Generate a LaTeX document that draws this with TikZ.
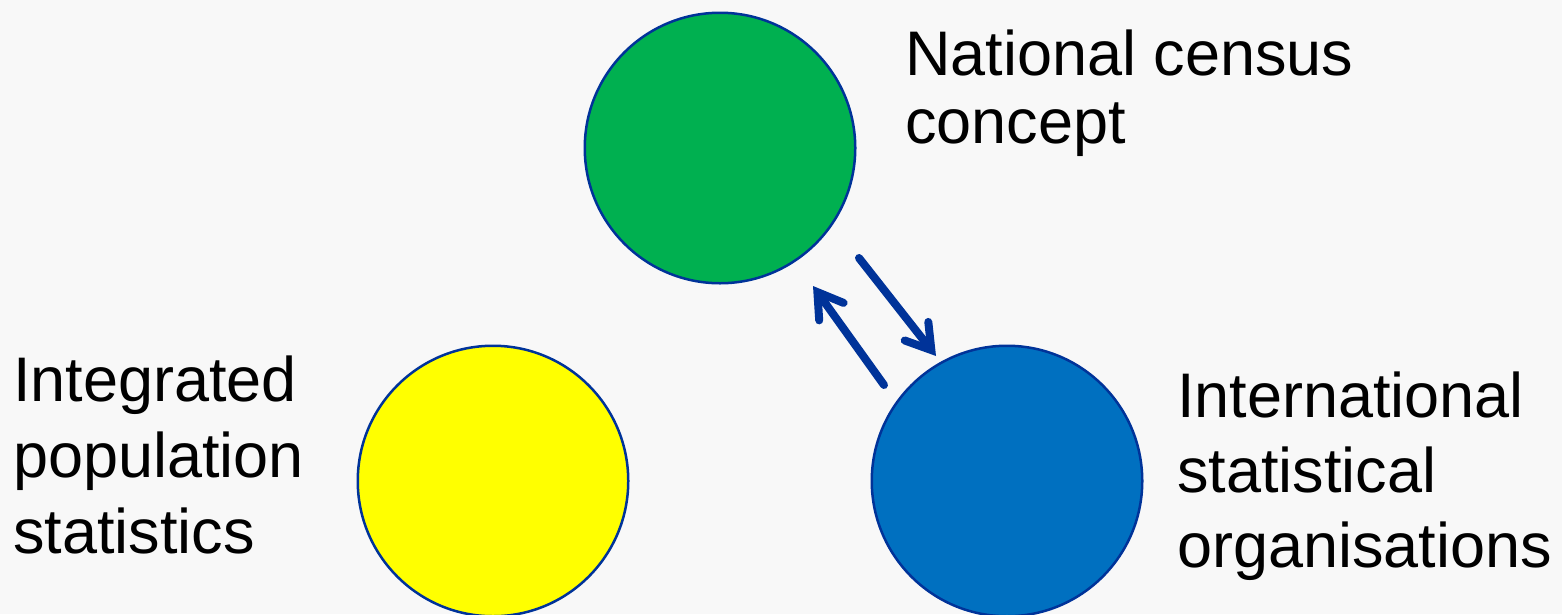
\documentclass[tikz,border=0pt]{standalone}
\usepackage{fontspec}
\setmainfont{Liberation Sans}
\usetikzlibrary{arrows.meta}
\definecolor{bg}{RGB}{248,248,248}
\definecolor{cgreen}{RGB}{0,176,80}
\definecolor{cyellow}{RGB}{255,255,0}
\definecolor{cblue}{RGB}{0,112,192}
\definecolor{edge}{RGB}{0,51,153}
\tikzset{
  bubble/.style={circle, draw=edge, line width=2.5pt, minimum size=270.5pt, inner sep=0pt},
  label text/.style={anchor=base west, align=left, inner sep=0pt, text=black},
  flow/.style={draw=edge, line width=8pt, line cap=round,
    -{Straight Barb[length=24pt, width=30pt, line cap=round, line join=miter]}}
}
\begin{document}
\begin{tikzpicture}[x=1pt, y=-1pt]
\fill[bg] (0,0) rectangle (1562,614);
\useasboundingbox (0,0) rectangle (1562,614);
\node[bubble, fill=cgreen] (green) at (720,148) {};
\node[bubble, fill=cyellow] (yellow) at (493,481) {};
\node[bubble, fill=cblue] (blue) at (1007,481) {};
\node[label text, font=\fontsize{63pt}{68pt}\selectfont] (tnat) at (905,143) {National census\\concept};
\node[label text, font=\fontsize{63pt}{76pt}\selectfont] (tint) at (13,553) {Integrated\\population\\statistics};
\node[label text, font=\fontsize{63pt}{75pt}\selectfont] (tstat) at (1177,567) {International\\statistical\\organisations};
\coordinate (d1) at (859,258);
\coordinate (d2) at (936,356);
\coordinate (u1) at (884,385);
\coordinate (u2) at (813,286);
\draw[flow] (d1) -- (d2);
\draw[flow] (u1) -- (u2);
\end{tikzpicture}
\end{document}
